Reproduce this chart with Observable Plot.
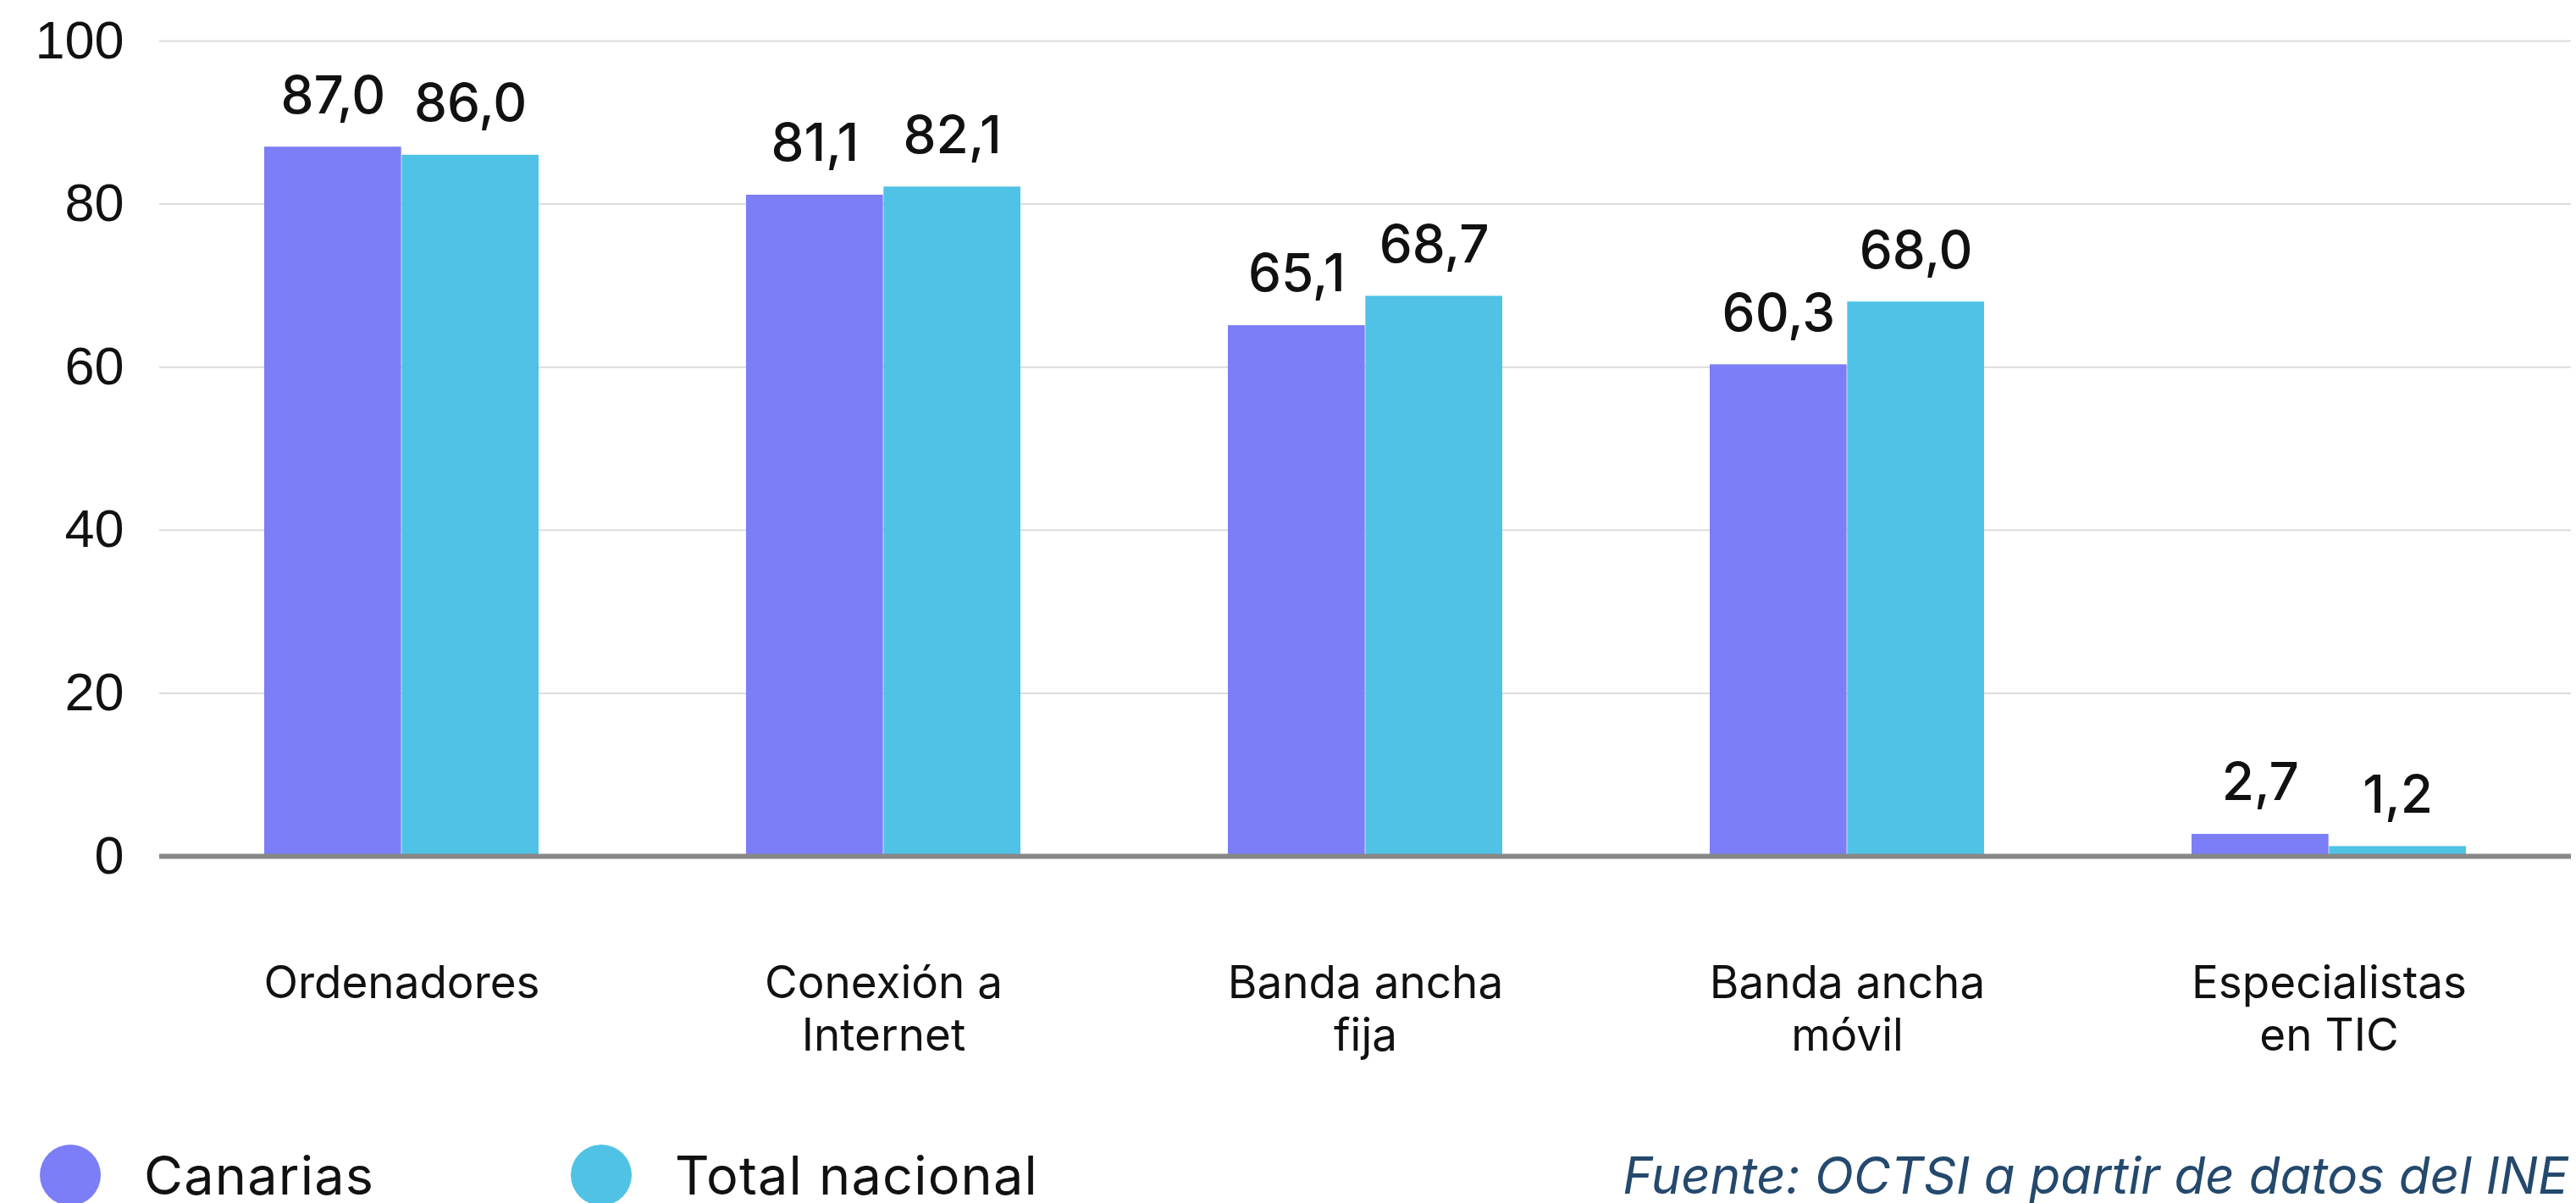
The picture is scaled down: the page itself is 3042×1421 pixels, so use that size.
<!DOCTYPE html>
<html>
<head>
<meta charset="utf-8">
<script src="https://cdn.jsdelivr.net/npm/d3@7"></script>
<script src="https://cdn.jsdelivr.net/npm/@observablehq/plot@0.6"></script>
<style>
  html, body { margin: 0; padding: 0; background: #fff; width: 3042px; height: 1421px; overflow: hidden; }
  #wrap { position: relative; width: 3042px; height: 1421px; }
  #legend { position: absolute; left: 0; top: 1352px; width: 3042px; height: 72px; font-family: Inter, "Noto Sans", sans-serif; }
  .item { position: absolute; top: 0; height: 72px; display: flex; align-items: center; font-size: 63px; line-height: 1; color: #111; letter-spacing: 1.2px; }
  .dot { width: 72px; height: 72px; border-radius: 50%; display: inline-block; }
  #caption { position: absolute; right: 9px; top: 0; height: 72px; display: flex; align-items: center; font-style: italic; font-size: 60px; line-height: 1; color: #24496d; }
</style>
</head>
<body>
<div id="wrap">
  <div id="chart"></div>
  <div id="legend"></div>
</div>
<script>
const categories = ["Ordenadores", "Conexión a Internet", "Banda ancha fija", "Banda ancha móvil", "Especialistas en TIC"];
const categoryLabels = ["Ordenadores", "Conexión a\nInternet", "Banda ancha\nfija", "Banda ancha\nmóvil", "Especialistas\nen TIC"];
const seriesNames = ["Canarias", "Total nacional"];
const canarias = [87.0, 81.1, 65.1, 60.3, 2.7];
const nacional = [86.0, 82.1, 68.7, 68.0, 1.2];
const seriesColors = ["#7b7ef6", "#50c2e6"];
const yTicks = [0, 20, 40, 60, 80, 100];
const sourceText = "Fuente: OCTSI a partir de datos del INE";

const W = 3042, H = 1300, ML = 188, MR = 6, MT = 48, MB = 289;
const padIn = 0.43;
const bw = (W - ML - MR) / categories.length * (1 - padIn);

const rowsA = categories.map((c, i) => ({category: c, value: canarias[i]}));
const rowsB = categories.map((c, i) => ({category: c, value: nacional[i]}));
const labelMap = new Map(categories.map((c, i) => [c, categoryLabels[i]]));
const fmt = v => v.toFixed(1).replace(".", ",");

const chart = Plot.plot({
  width: W,
  height: H,
  marginLeft: ML,
  marginRight: MR,
  marginTop: MT,
  marginBottom: MB,
  style: {background: "#fff", color: "#111"},
  x: {type: "band", domain: categories, paddingInner: padIn, paddingOuter: padIn / 2, axis: null},
  y: {domain: [0, 100], axis: null},
  marks: [
    Plot.ruleY(yTicks.filter(d => d > 0), {stroke: "#dcdcdc", strokeWidth: 2}),
    Plot.barY(rowsA, {x: "category", y: "value", fill: seriesColors[0], insetRight: bw / 2}),
    Plot.barY(rowsB, {x: "category", y: "value", fill: seriesColors[1], insetLeft: bw / 2}),
    Plot.ruleY([0], {stroke: "#888", strokeWidth: 6}),
    Plot.text(rowsA, {x: "category", y: "value", dx: -bw / 4, dy: -60, text: d => fmt(d.value), fontSize: 62, fontWeight: 500, fontFamily: "Inter", fill: "#111", lineAnchor: "middle"}),
    Plot.text(rowsB, {x: "category", y: "value", dx: bw / 4, dy: -60, text: d => fmt(d.value), fontSize: 62, fontWeight: 500, fontFamily: "Inter", fill: "#111", lineAnchor: "middle"}),
    Plot.axisY({ticks: yTicks, tickSize: 0, tickPadding: 42, fontSize: 63, fontFamily: "Liberation Sans", label: null, color: "#111"}),
    Plot.axisX({tickSize: 0, tickPadding: 123, fontSize: 53, fontFamily: "Inter", lineHeight: 1.18, tickFormat: d => labelMap.get(d), label: null, color: "#111"})
  ]
});
document.getElementById("chart").appendChild(chart);

const legend = document.getElementById("legend");
const positions = [47, 674];
seriesNames.forEach((name, i) => {
  const item = document.createElement("div");
  item.className = "item";
  item.style.left = positions[i] + "px";
  const dot = document.createElement("span");
  dot.className = "dot";
  dot.style.background = seriesColors[i];
  const label = document.createElement("span");
  label.textContent = name;
  label.style.marginLeft = "51px";
  item.appendChild(dot);
  item.appendChild(label);
  legend.appendChild(item);
});
const cap = document.createElement("div");
cap.id = "caption";
cap.textContent = sourceText;
legend.appendChild(cap);
</script>
</body>
</html>
